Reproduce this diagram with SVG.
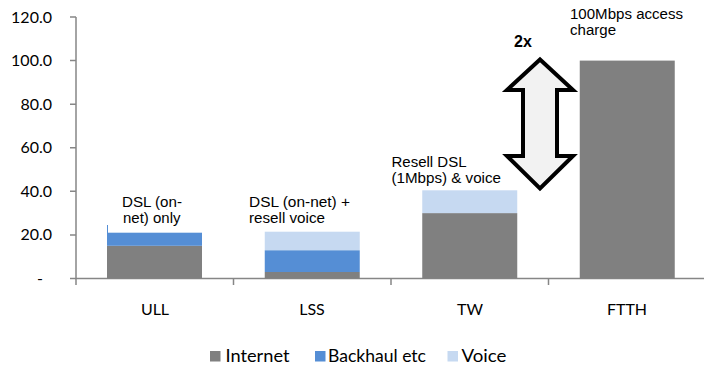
<svg xmlns="http://www.w3.org/2000/svg" width="704" height="365" viewBox="0 0 704 365">
<style>
.ax{stroke:#868686;stroke-width:1.5;fill:none}
.yl{font-family:Lato,"Liberation Sans",sans-serif;font-size:16px;fill:#000;text-anchor:end}
.xl{font-family:Lato,"Liberation Sans",sans-serif;font-size:16px;fill:#000;text-anchor:middle}
.lg{font-family:Lato,"Liberation Sans",sans-serif;font-size:17px;fill:#000}
.an{font-family:"Liberation Sans",Arial,sans-serif;font-size:14px;fill:#000}
.inet{fill:#808080}
.bh{fill:#558ED5}
.vo{fill:#C6D9F1}
</style>
<rect width="704" height="365" fill="#fff"/>
<g id="axes">
<path class="ax" d="M76 17V278.5H704"/>
<path class="ax" d="M70 17H76M70 60.6H76M70 104.2H76M70 147.7H76M70 191.3H76M70 234.9H76M70 278.5H76"/>
<path class="ax" d="M76 278.5V285M233.5 278.5V285M391 278.5V285M548.5 278.5V285"/>
<text class="yl" x="52" y="22.5">120.0</text>
<text class="yl" x="52" y="66">100.0</text>
<text class="yl" x="52" y="109.7">80.0</text>
<text class="yl" x="52" y="153.2">60.0</text>
<text class="yl" x="52" y="196.8">40.0</text>
<text class="yl" x="52" y="240.4">20.0</text>
<text class="yl" x="43" y="284">-</text>
<text class="xl" x="155" y="315">ULL</text>
<text class="xl" x="312" y="315">LSS</text>
<text class="xl" x="470" y="315">TW</text>
<text class="xl" x="627" y="315">FTTH</text>
</g>
<g id="ULL">
<rect class="inet" x="107" y="245.8" width="95" height="32.7"/>
<rect class="bh" x="107" y="232.7" width="95" height="13.1"/>
<rect class="bh" x="107" y="225" width="1" height="8"/>
<text class="an" x="122" y="207.2" textLength="60" lengthAdjust="spacingAndGlyphs">DSL (on-</text>
<text class="an" x="123" y="223.2" textLength="57.5" lengthAdjust="spacingAndGlyphs">net) only</text>
</g>
<g id="LSS">
<rect class="inet" x="264.75" y="272" width="95" height="6.5"/>
<rect class="bh" x="264.75" y="250.2" width="95" height="21.8"/>
<rect class="vo" x="264.75" y="231.7" width="95" height="18.5"/>
<text class="an" x="249" y="207.2" textLength="101" lengthAdjust="spacingAndGlyphs">DSL (on-net) +</text>
<text class="an" x="249" y="223.2" textLength="76" lengthAdjust="spacingAndGlyphs">resell voice</text>
</g>
<g id="TW">
<rect class="inet" x="422.25" y="213.1" width="95" height="65.4"/>
<rect class="vo" x="422.25" y="190.3" width="95" height="22.8"/>
<text class="an" x="391.5" y="167.2" textLength="75" lengthAdjust="spacingAndGlyphs">Resell DSL</text>
<text class="an" x="391.5" y="183.2" textLength="109.5" lengthAdjust="spacingAndGlyphs">(1Mbps) &amp; voice</text>
</g>
<g id="FTTH">
<rect class="inet" x="579.75" y="60.6" width="95" height="217.9"/>
<text class="an" x="570" y="18.5" textLength="113" lengthAdjust="spacingAndGlyphs">100Mbps access</text>
<text class="an" x="570" y="34.5" textLength="46" lengthAdjust="spacingAndGlyphs">charge</text>
</g>
<g id="arrow">
<polygon points="540,59.5 573,90 557,90 557,156 573,156 540,188.5 507,156 523,156 523,90 507,90" fill="#F2F2F2" stroke="#000" stroke-width="4" stroke-linejoin="miter"/>
<text x="523" y="47" font-family="'Liberation Sans',Arial,sans-serif" font-size="16" font-weight="bold" text-anchor="middle">2x</text>
</g>
<g id="legend">
<rect class="inet" x="210" y="351" width="10.5" height="10.5"/>
<text class="lg" x="225.5" y="362.3" textLength="64" lengthAdjust="spacingAndGlyphs">Internet</text>
<rect class="bh" x="315" y="351" width="10.5" height="10.5"/>
<text class="lg" x="328" y="362.3" textLength="98" lengthAdjust="spacingAndGlyphs">Backhaul etc</text>
<rect class="vo" x="447.5" y="351" width="10.5" height="10.5"/>
<text class="lg" x="461.5" y="362.3" textLength="45" lengthAdjust="spacingAndGlyphs">Voice</text>
</g>
</svg>
